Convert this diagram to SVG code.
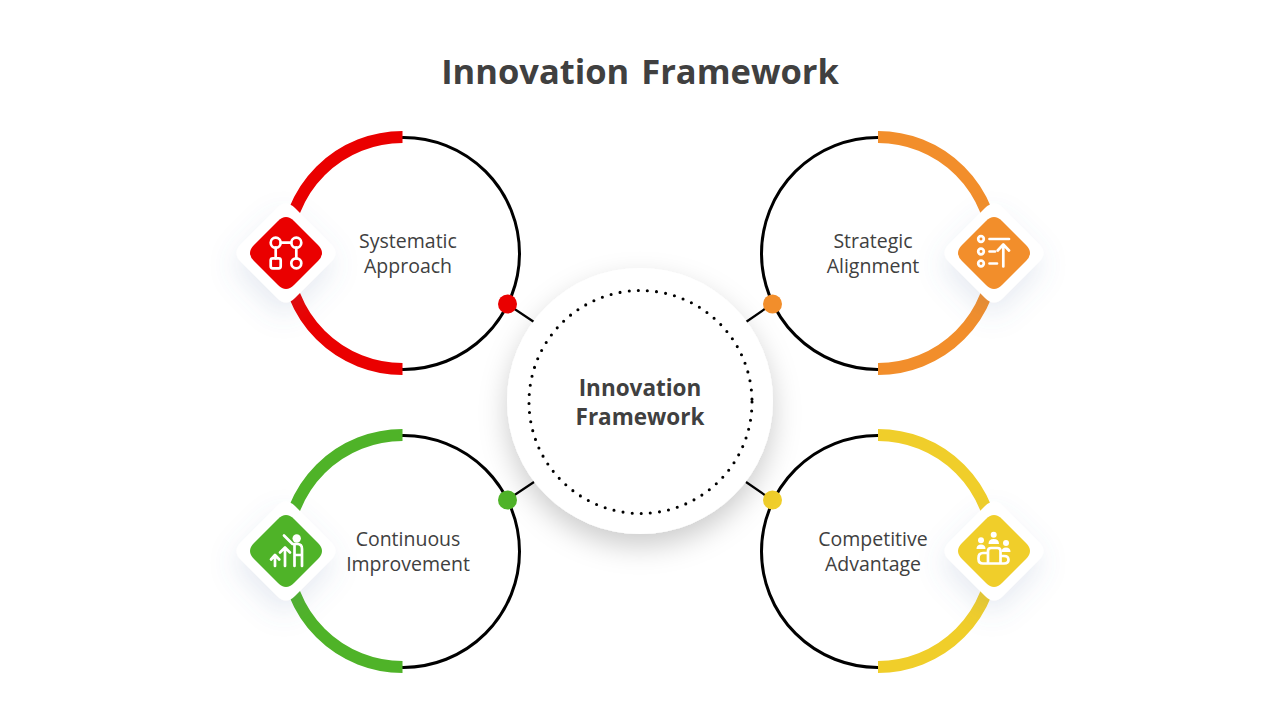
<svg xmlns="http://www.w3.org/2000/svg" width="1280" height="720" viewBox="0 0 1280 720">
<defs>
<style>
text{font-family:"Open Sans","Noto Sans","Liberation Sans",sans-serif;fill:#404040;text-anchor:middle}
.t{font-size:19.500px}
.ring{fill:none;stroke:#000;stroke-width:3}
.arc{fill:none;stroke-width:12}
.link{stroke:#000;stroke-width:2.200;fill:none}
.ic{fill:none;stroke:#fff;stroke-width:2.700;stroke-linecap:round;stroke-linejoin:round}
.icf{fill:#fff;stroke:none}
</style>
<filter id="sh" x="-40%" y="-40%" width="180%" height="180%"><feDropShadow dx="0" dy="12" stdDeviation="14" flood-color="#000" flood-opacity="0.2"/></filter>
<filter id="sd" x="-60%" y="-60%" width="220%" height="220%"><feDropShadow dx="-2" dy="12" stdDeviation="14" flood-color="#5a7aa8" flood-opacity="0.15"/></filter>
<path id="dw" d="M-9-45Q0-54 9-45L45-9Q54 0 45 9L9 45Q0 54-9 45L-45 9Q-54 0-45-9Z"/>
<path id="dc" d="M-8-32Q0-40 8-32L32-8Q40 0 32 8L8 32Q0 40-8 32L-32 8Q-40 0-32-8Z"/>
</defs>
<rect width="1280" height="720" fill="#fff"/>
<text x="640" y="84" font-size="34.500" font-weight="700" word-spacing="3">Innovation Framework</text>

<g id="connectors">
<path class="link" d="M507 304L534 322M772 304L746 322M507 500L534 482M772 500L746 482"/>
</g>

<g id="node-systematic">
<circle class="ring" cx="403.500" cy="253.400" r="116"/>
<path class="arc" stroke="#ea0000" d="M402.500 137A116 116 0 0 0 402.500 369"/>
<circle cx="507.500" cy="304" r="9.500" fill="#ea0000"/>
<use href="#dw" x="286" y="253" fill="#fff" filter="url(#sd)"/>
<use href="#dc" x="286" y="253" fill="#ea0000"/>
<g class="ic"><circle cx="275.700" cy="242.700" r="5"/><circle cx="296.300" cy="242.700" r="5"/><circle cx="296.300" cy="263.300" r="5"/><rect x="270.700" y="258.300" width="10" height="10" rx="2"/><path d="M280.700 242.700H291.300M275.700 247.700V258.300M296.300 247.700V258.300"/></g>
<text class="t" x="408" y="248">Systematic</text><text class="t" x="408" y="273">Approach</text>
</g>

<g id="node-strategic">
<circle class="ring" cx="877.500" cy="253.400" r="116"/>
<path class="arc" stroke="#f28e2b" d="M878 137A116 116 0 0 1 878 369"/>
<circle cx="772.500" cy="304" r="9.500" fill="#f28e2b"/>
<use href="#dw" x="994" y="253" fill="#fff" filter="url(#sd)"/>
<use href="#dc" x="994" y="253" fill="#f28e2b"/>
<g class="ic"><circle cx="981" cy="239" r="2.800"/><circle cx="981" cy="251.500" r="2.800"/><circle cx="981" cy="263.500" r="2.800"/><path d="M989.500 239H1009M989.500 251.500H995M989.500 263.500H997M1003.300 266.500V245M997.700 250.500L1003.300 244.500L1009 250.500"/></g>
<text class="t" x="873" y="248">Strategic</text><text class="t" x="873" y="273">Alignment</text>
</g>

<g id="node-continuous">
<circle class="ring" cx="403.500" cy="551.400" r="116"/>
<path class="arc" stroke="#4fb328" d="M402.500 435A116 116 0 0 0 402.500 667"/>
<circle cx="507.500" cy="500" r="9.500" fill="#4fb328"/>
<use href="#dw" x="286" y="551" fill="#fff" filter="url(#sd)"/>
<use href="#dc" x="286" y="551" fill="#4fb328"/>
<g class="ic"><circle class="icf" cx="296.700" cy="538.500" r="4.200"/><path d="M284 535.500L292.500 544H297.500Q302 544 302 549V566M294.500 544V566M294.500 555H302M285 566V548M280 552.500L285 547.500L290 552.500M275 566V555.500M271 559.500L275 555L279.300 559.500"/></g>
<text class="t" x="408" y="546">Continuous</text><text class="t" x="408" y="571">Improvement</text>
</g>

<g id="node-competitive">
<circle class="ring" cx="877.500" cy="551.400" r="116"/>
<path class="arc" stroke="#f0ce2a" d="M878 435A116 116 0 0 1 878 667"/>
<circle cx="772.500" cy="500" r="9.500" fill="#f0ce2a"/>
<use href="#dw" x="994" y="551" fill="#fff" filter="url(#sd)"/>
<use href="#dc" x="994" y="551" fill="#f0ce2a"/>
<g class="ic"><path d="M988 553H983Q978.500 553 978.500 558V559Q978.500 563.500 983 563.500H1004Q1008.500 563.500 1008.500 559.800Q1008.500 556 1004 556H1000.500M988 563.500V551Q988 548 991 548H997.500Q1000.500 548 1000.500 551V563.500"/></g>
<g class="icf"><circle cx="981" cy="540.300" r="3"/><circle cx="993.700" cy="534.700" r="3"/><circle cx="1006" cy="543" r="3"/><path d="M976.500 549Q976.500 544.500 981 544.500Q985.500 544.500 985.500 549ZM988.500 544Q988.500 539 993.700 539Q999 539 999 544ZM1001.500 552Q1001.500 547.500 1006 547.500Q1010.500 547.500 1010.500 552Z"/></g>
<text class="t" x="873" y="546">Competitive</text><text class="t" x="873" y="571">Advantage</text>
</g>

<g id="node-center">
<circle cx="640" cy="401" r="133" fill="#fff" filter="url(#sh)"/>
<circle cx="640.500" cy="402" r="111.500" fill="none" stroke="#000" stroke-width="3.100" stroke-linecap="round" stroke-dasharray="0 9.170"/>
<text x="640" y="396" font-size="22.500" font-weight="700">Innovation</text>
<text x="640" y="425" font-size="22.500" font-weight="700">Framework</text>
</g>
</svg>
